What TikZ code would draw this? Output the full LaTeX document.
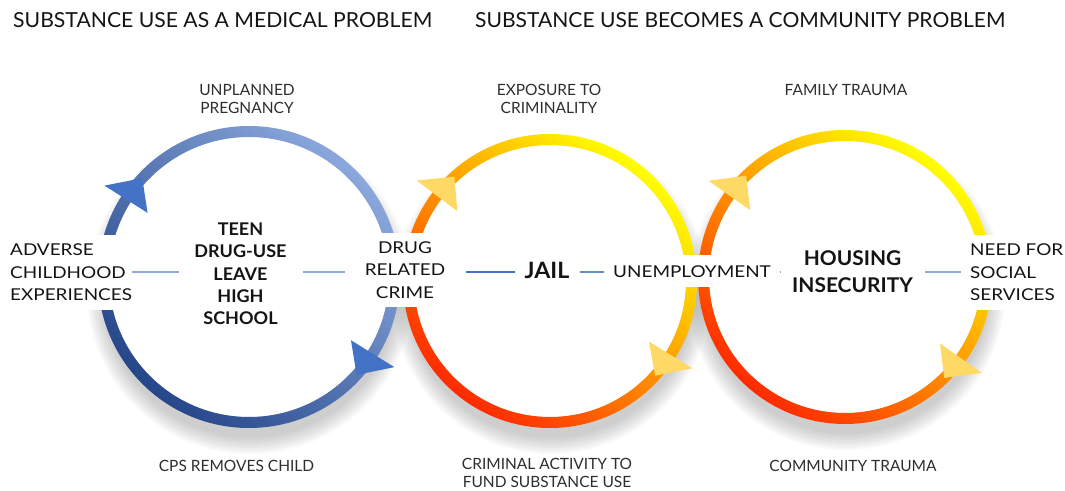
\documentclass[tikz,border=0pt]{standalone}
\usepackage{fontspec}
\usepackage{graphicx}
\setmainfont{Lato}
\newfontfamily\widefont[FakeStretch=1.16]{Lato}
\newfontfamily\boldfont[FakeStretch=1.03]{Lato}
\usetikzlibrary{calc}
\definecolor{blueL}{HTML}{8AA8DC}
\definecolor{blueD}{HTML}{26468A}
\definecolor{yel}{HTML}{FFFF00}
\definecolor{orn}{HTML}{FF9A00}
\definecolor{redd}{HTML}{FF2A00}
\definecolor{arrB}{HTML}{4472C4}
\definecolor{arrY}{HTML}{FFD966}
\definecolor{txt}{HTML}{141414}
\definecolor{txtS}{HTML}{2E2E2E}
\definecolor{connL}{HTML}{8FAADC}
\definecolor{connD}{HTML}{4472C4}
\begin{document}
\begin{tikzpicture}[x=1pt,y=1pt,
  titlest/.style={inner sep=0, text=txt, anchor=base west},
  small/.style={font=\fontsize{15.5}{18}\selectfont, text=txtS, align=center, inner sep=0},
  big/.style={font=\widefont\fontsize{16.3}{22.5}\selectfont, text=txt, inner sep=0},
  boldt/.style={font=\boldfont\bfseries\fontsize{17.5}{22.3}\selectfont, text=txt, inner sep=0, align=center},
  boldh/.style={font=\boldfont\bfseries\fontsize{20.3}{27}\selectfont, text=txt, inner sep=0, align=center},
  jailst/.style={font=\boldfont\bfseries\fontsize{22.5}{27}\selectfont, text=txt, inner sep=0},
  conn/.style={line width=1.1pt},
]
\useasboundingbox (0,0) rectangle (1065,490);
\coordinate (cB) at (249,213);
\coordinate (cM) at (550,209);
\coordinate (cR) at (845,213);
\coordinate (axis) at (0,218);
% shadows
\foreach \c/\r in {cB/151,cM/147,cR/147}{
  \foreach \k in {0,...,8}{
    \fill[black,opacity=0.025] ([shift={(1,-14)}]\c) circle ({\r+12-2*\k});
  }
}
% white interiors
\fill[white] (cB) circle (140);
\fill[white] (cM) circle (136);
\fill[white] (cR) circle (136);
% rings
\shade[even odd rule, top color=blueL, bottom color=blueD, shading angle=-45] (cB) circle (151) (cB) circle (140);
\shade[even odd rule, top color=yel, middle color=orn, bottom color=redd, shading angle=-40] (cM) circle (147) (cM) circle (136);
\shade[even odd rule, top color=yel, middle color=orn, bottom color=redd, shading angle=-40] (cR) circle (147) (cR) circle (136);
% arrowheads
\fill[arrB] ($(cB)+(147.7:120)$) -- ($(cB)+(147.7:171)$) -- ($(cB)+(137.2:145.5)$) -- cycle;
\fill[arrB] ($(cB)+(-31.8:120)$) -- ($(cB)+(-31.8:171)$) -- ($(cB)+(-42.3:145.5)$) -- cycle;
\fill[arrY] ($(cM)+(143:116)$) -- ($(cM)+(143:167)$) -- ($(cM)+(132.5:141.5)$) -- cycle;
\fill[arrY] ($(cM)+(-31.5:116)$) -- ($(cM)+(-31.5:167)$) -- ($(cM)+(-42:141.5)$) -- cycle;
\fill[arrY] ($(cR)+(144.8:116)$) -- ($(cR)+(144.8:167)$) -- ($(cR)+(134.3:141.5)$) -- cycle;
\fill[arrY] ($(cR)+(-35:116)$) -- ($(cR)+(-35:167)$) -- ($(cR)+(-45.5:141.5)$) -- cycle;
% titles
\node[titlest] (t1) at (13,462) {\resizebox{419pt}{15pt}{SUBSTANCE USE AS A MEDICAL PROBLEM}};
\node[titlest] (t2) at (475,462) {\resizebox{530pt}{15pt}{SUBSTANCE USE BECOMES A COMMUNITY PROBLEM}};
% main labels
\node[big, anchor=west, align=left, fill=white, inner ysep=9.5] (adverse) at (10,217.5) {ADVERSE\\CHILDHOOD\\EXPERIENCES};
\node[boldt] (teen) at (240.5,216) {TEEN\\DRUG-USE\\LEAVE\\HIGH\\SCHOOL};
\node[big, align=center, fill=white, inner ysep=8.5] (drug) at (405,220) {DRUG\\RELATED\\CRIME};
\node[jailst] (jail) at (547,219.3) {JAIL};
\node[big, fill=white, inner ysep=10] (unemp) at (692,218.7) {UNEMPLOYMENT};
\node[boldh] (housing) at (852.5,218.5) {HOUSING\\INSECURITY};
\node[big, anchor=west, align=left, fill=white, inner ysep=9] (need) at (970,217.4) {NEED FOR\\SOCIAL\\SERVICES};
% small labels
\node[small] (unpl) at (247,391) {UNPLANNED\\PREGNANCY};
\node[small] (expo) at (549,391) {EXPOSURE TO\\CRIMINALITY};
\node[small] (fam) at (846,400) {FAMILY TRAUMA};
\node[small] (cps) at (236.5,24) {CPS REMOVES CHILD};
\node[small] (crim) at (547,17) {CRIMINAL ACTIVITY TO\\FUND SUBSTANCE USE};
\node[small] (comm) at (853,24) {COMMUNITY TRAUMA};
% connectors
\draw[conn, connL, shorten <=0pt, shorten >=15pt] (adverse.east |- axis) -- (teen.west |- axis);
\draw[conn, connL, shorten <=16pt, shorten >=20pt] (teen.east |- axis) -- (drug.west |- axis);
\draw[conn, connD, shorten <=21pt, shorten >=9pt] (drug.east |- axis) -- (jail.west |- axis);
\draw[conn, connD!80!white, shorten <=10pt, shorten >=9pt] (jail.east |- axis) -- (unemp.west |- axis);
\draw[conn, connL, shorten <=9pt, shorten >=11pt] (unemp.east |- axis) -- (housing.west |- axis);
\draw[conn, connL, shorten <=12pt, shorten >=9pt] (housing.east |- axis) -- (need.west |- axis);
\end{tikzpicture}
\end{document}
